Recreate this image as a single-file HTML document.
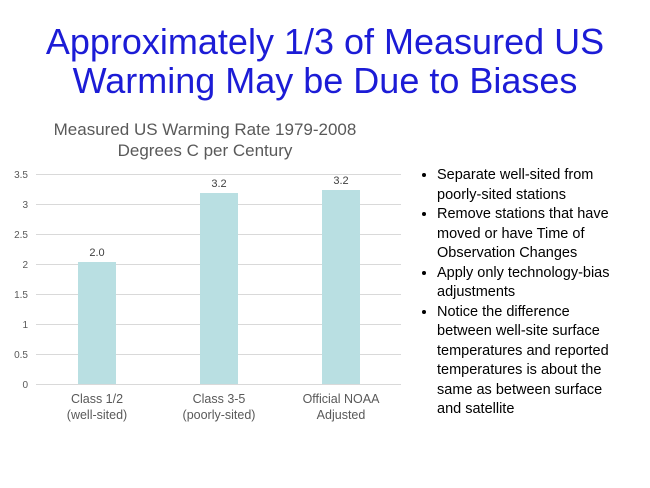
<!DOCTYPE html>
<html><head><style>
body{margin:0;width:650px;height:488px;background:#fff;font-family:"Liberation Sans",sans-serif;position:relative;overflow:hidden}
.t{position:absolute;left:0;width:650px;text-align:center;color:#1c1cd6;font-size:36px;line-height:39px;top:22px}
ul{position:absolute;left:418px;top:166px;margin:0;padding:0 0 0 19px;font-size:14.5px;line-height:19.5px;color:#000;width:190px}
li{margin:0;}
</style></head><body>
<div class="t">Approximately 1/3 of Measured US<br>Warming May be Due to Biases</div>
<svg width="650" height="488" style="position:absolute;left:0;top:0" font-family="Liberation Sans, sans-serif">
<text x="205" y="135" font-size="17" fill="#595959" text-anchor="middle">Measured US Warming Rate 1979-2008</text>
<text x="205" y="156" font-size="17" fill="#595959" text-anchor="middle">Degrees C per Century</text>
<g stroke="#d9d9d9" stroke-width="1">
<line x1="36" x2="401" y1="174.5" y2="174.5"/><line x1="36" x2="401" y1="204.5" y2="204.5"/>
<line x1="36" x2="401" y1="234.5" y2="234.5"/><line x1="36" x2="401" y1="264.5" y2="264.5"/>
<line x1="36" x2="401" y1="294.5" y2="294.5"/><line x1="36" x2="401" y1="324.5" y2="324.5"/>
<line x1="36" x2="401" y1="354.5" y2="354.5"/><line x1="36" x2="401" y1="384.5" y2="384.5"/>
</g>
<g font-size="10" fill="#595959" text-anchor="end">
<text x="28" y="178">3.5</text><text x="28" y="208">3</text><text x="28" y="238">2.5</text>
<text x="28" y="268">2</text><text x="28" y="298">1.5</text><text x="28" y="328">1</text>
<text x="28" y="358">0.5</text><text x="28" y="388">0</text>
</g>
<g fill="#b9dfe2">
<rect x="78" y="262" width="38" height="122"/><rect x="200" y="193" width="38" height="191"/><rect x="322" y="190" width="38" height="194"/>
</g>
<g font-size="11" fill="#404040" text-anchor="middle">
<text x="97" y="256">2.0</text><text x="219" y="187">3.2</text><text x="341" y="184">3.2</text>
</g>
<g font-size="12.5" fill="#595959" text-anchor="middle">
<text x="97" y="403">Class 1/2</text><text x="97" y="419">(well-sited)</text>
<text x="219" y="403">Class 3-5</text><text x="219" y="419">(poorly-sited)</text>
<text x="341" y="403">Official NOAA</text><text x="341" y="419">Adjusted</text>
</g>
</svg>
<ul>
<li>Separate well-sited from poorly-sited stations</li>
<li>Remove stations that have moved or have Time of Observation Changes</li>
<li>Apply only technology-bias adjustments</li>
<li>Notice the difference between well-site surface temperatures and reported temperatures is about the same as between surface and satellite</li>
</ul>
</body></html>
